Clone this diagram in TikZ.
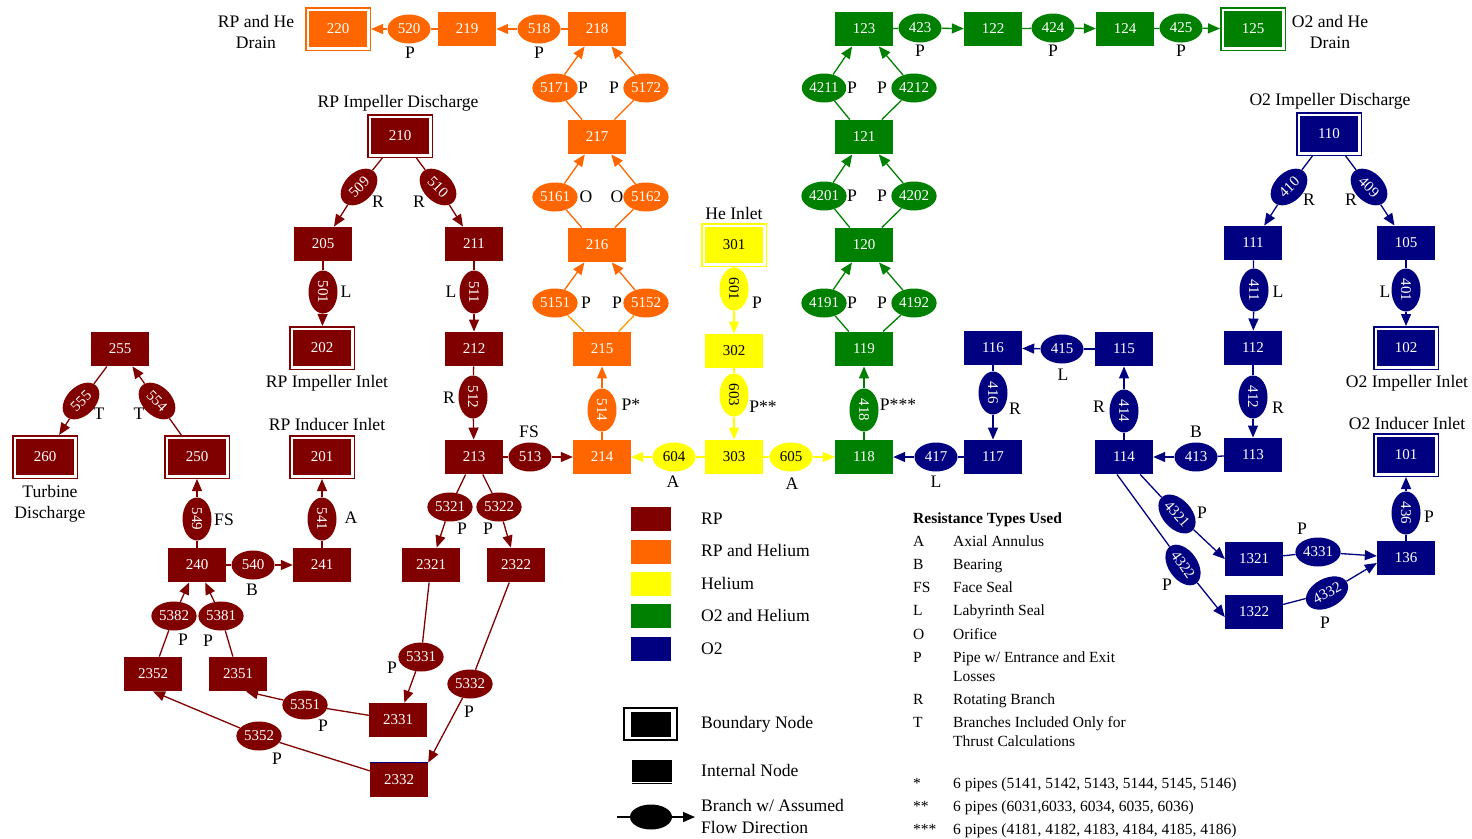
\documentclass[tikz,border=0pt]{standalone}
\usepackage{fontspec}
\setmainfont{Liberation Serif}
\usetikzlibrary{arrows.meta,shapes.geometric}
\definecolor{rp}{HTML}{800000}
\definecolor{orn}{HTML}{FF6600}
\definecolor{orl}{HTML}{FF9900}
\definecolor{yel}{HTML}{FFFF00}
\definecolor{grn}{HTML}{008000}
\definecolor{nvy}{HTML}{000080}
\newcommand\nfont{\fontsize{15}{17}\selectfont}
\newcommand\lfont{\fontsize{17.6}{21}\selectfont}
\newcommand\sfont{\fontsize{15.5}{18.5}\selectfont}
\tikzset{
 nd/.style={rectangle, fill=#1, minimum width=58pt, minimum height=34.5pt, inner sep=0pt, font=\nfont, text=white},
 bd/.style={rectangle, fill=#1, draw=#1, double=white, double distance=2.5pt, line width=1.5pt, minimum width=60.5pt, minimum height=38.5pt, inner sep=0pt, outer sep=2.75pt, font=\nfont, text=white},
 el/.style={ellipse, fill=#1, minimum width=43pt, minimum height=29pt, inner sep=1pt, font=\nfont, text=white},
 lb/.style={font=\lfont, inner sep=0pt, align=center},
 lt/.style={font=\lfont, inner sep=0pt, anchor=west, text height=11.6pt, text depth=0pt},
 rt/.style={font=\sfont, inner sep=0pt, anchor=west, text height=10.2pt, text depth=0pt},
 ln/.style={draw=#1, line width=1.3pt},
 ar/.style={draw=#1, line width=1.3pt, -{Triangle[length=12pt,width=10pt]}},
}
\newcommand\mybr[4]{\draw[ln=#1] (#2) -- (#3); \draw[ar=#1] (#3) -- (#4);}
\newcommand\lab[3]{\node[lb] (#1) at (#2) {#3};}
\begin{document}
\begin{tikzpicture}[x=1pt,y=-1pt]
\useasboundingbox (0,0) rectangle (1472,838);
% ---------------- RP (dark red)
\node[bd=rp] (210) at (400,136) {210};
\node[el=rp, rotate=45] (509) at (359,187) {509};
\node[el=rp, rotate=-45] (510) at (438,187) {510};
\node[nd=rp] (205) at (323,244) {205};
\node[nd=rp] (211) at (474,244) {211};
\node[el=rp, rotate=-90] (501) at (323,292) {501};
\node[el=rp, rotate=-90] (511) at (474,292) {511};
\node[bd=rp] (202) at (322,348) {202};
\node[nd=rp] (212) at (474,349) {212};
\node[el=rp, rotate=-90] (512) at (473,397) {512};
\node[nd=rp] (213) at (474,457) {213};
\node[el=rp] (513) at (530,457) {513};
\node[el=rp] (5321) at (450,507) {5321};
\node[el=rp] (5322) at (499,507) {5322};
\node[nd=rp] (2321) at (431,565) {2321};
\node[nd=rp] (2322) at (516,565) {2322};
\node[el=rp] (5331) at (421,657) {5331};
\node[el=rp] (5332) at (470,684) {5332};
\node[nd=rp] (2331) at (398,720) {2331};
\node[nd=rp] (2332) at (399,780) {2332};
\draw[nvy, line width=1pt] (2332.north west) -- (2332.north east);
\node[el=rp] (5351) at (305,705) {5351};
\node[el=rp] (5352) at (259,736) {5352};
\node[nd=rp] (2351) at (238,674) {2351};
\node[nd=rp] (2352) at (153,674) {2352};
\node[el=rp] (5381) at (221,616) {5381};
\node[el=rp] (5382) at (174,616) {5382};
\node[nd=rp] (240) at (197,565) {240};
\node[el=rp] (540) at (253,565) {540};
\node[nd=rp] (241) at (322,565) {241};
\node[el=rp, rotate=-90] (541) at (322,519) {541};
\node[bd=rp] (201) at (322,457) {201};
\node[el=rp, rotate=-90] (549) at (197,519) {549};
\node[bd=rp] (250) at (197,457) {250};
\node[el=rp, rotate=-45] (554) at (157,401) {554};
\node[nd=rp] (255) at (120,349) {255};
\node[el=rp, rotate=45] (555) at (81,401) {555};
\node[bd=rp] (260) at (45,457) {260};
% ---------------- RP and Helium (orange)
\node[bd=orn] (220) at (338,29) {220};
\node[el=orn] (520) at (409,29) {520};
\node[nd=orn] (219) at (467,29) {219};
\node[el=orn] (518) at (539,29) {518};
\node[nd=orn] (218) at (597,29) {218};
\node[el=orn] (5171) at (555,88) {5171};
\node[el=orn] (5172) at (646,88) {5172};
\node[nd=orn] (217) at (597,137) {217};
\node[el=orn] (5161) at (555,197) {5161};
\node[el=orn] (5162) at (646,197) {5162};
\node[nd=orn] (216) at (597,245) {216};
\node[el=orn] (5151) at (555,303) {5151};
\node[el=orn] (5152) at (646,303) {5152};
\node[nd=orn] (215) at (602,349) {215};
\node[el=orn, rotate=-90] (514) at (602,410) {514};
\node[nd=orn] (214) at (602,457) {214};
% ---------------- Helium (yellow)
\node[bd=yel, text=black] (301) at (734,245) {301};
\node[el=yel, text=black, rotate=-90] (601) at (734,289) {601};
\node[nd=yel, text=black] (302) at (734,351) {302};
\node[el=yel, text=black, rotate=-90] (603) at (734,395) {603};
\node[nd=yel, text=black] (303) at (734,457) {303};
\node[el=yel, text=black] (604) at (674,457) {604};
\node[el=yel, text=black] (605) at (791,457) {605};
% ---------------- O2 and Helium (green)
\node[nd=grn] (123) at (864,29) {123};
\node[el=grn] (423) at (920,28) {423};
\node[nd=grn] (122) at (993,29) {122};
\node[el=grn] (424) at (1053,28) {424};
\node[nd=grn] (124) at (1125,29) {124};
\node[el=grn] (425) at (1181,28) {425};
\node[bd=grn] (125) at (1253,29) {125};
\node[el=grn] (4211) at (824,88) {4211};
\node[el=grn] (4212) at (914,88) {4212};
\node[nd=grn] (121) at (864,137) {121};
\node[el=grn] (4201) at (824,196) {4201};
\node[el=grn] (4202) at (914,196) {4202};
\node[nd=grn] (120) at (864,245) {120};
\node[el=grn] (4191) at (824,303) {4191};
\node[el=grn] (4192) at (914,303) {4192};
\node[nd=grn] (119) at (864,349) {119};
\node[el=grn, rotate=-90] (418) at (864,410) {418};
\node[nd=grn] (118) at (864,457) {118};
% ---------------- O2 (navy)
\node[nd=nvy] (117) at (993,457) {117};
\node[el=nvy] (417) at (936,457) {417};
\node[nd=nvy] (116) at (993,348) {116};
\node[el=nvy, rotate=-90] (416) at (993,393) {416};
\node[el=nvy] (415) at (1062,349) {415};
\node[nd=nvy] (115) at (1124,349) {115};
\node[el=nvy, rotate=-90] (414) at (1124,411) {414};
\node[nd=nvy] (114) at (1124,457) {114};
\node[el=nvy] (413) at (1196,457) {413};
\node[nd=nvy] (113) at (1253,455) {113};
\node[el=nvy, rotate=-90] (412) at (1253,397) {412};
\node[nd=nvy] (112) at (1253,348) {112};
\node[el=nvy, rotate=-90] (411) at (1254,290) {411};
\node[nd=nvy] (111) at (1253,243) {111};
\node[el=nvy, rotate=45] (410) at (1289,187) {410};
\node[bd=nvy] (110) at (1329,134) {110};
\node[el=nvy, rotate=-45] (409) at (1369,187) {409};
\node[nd=nvy] (105) at (1406,243) {105};
\node[el=nvy, rotate=-90] (401) at (1406,290) {401};
\node[bd=nvy] (102) at (1406,348) {102};
\node[bd=nvy] (101) at (1406,455) {101};
\node[el=nvy, rotate=-90] (436) at (1406,513) {436};
\node[nd=nvy] (136) at (1406,558) {136};
\node[el=nvy, rotate=-48] (4321) at (1177,514) {4321};
\node[el=nvy, rotate=-55] (4322) at (1183,565) {4322};
\node[nd=nvy] (1321) at (1254,559) {1321};
\node[nd=nvy] (1322) at (1254,612) {1322};
\node[el=nvy] (4331) at (1318,552) {4331};
\node[el=nvy, rotate=28] (4332) at (1327,593) {4332};
% ---------------- connectors
\mybr{rp}{210}{509}{205}
\mybr{rp}{210}{510}{211}
\mybr{rp}{205}{501}{202}
\mybr{rp}{211}{511}{212}
\mybr{rp}{212}{512}{213}
\mybr{rp}{213}{513}{214}
\mybr{rp}{213}{5321}{2321}
\mybr{rp}{213}{5322}{2322}
\mybr{rp}{2321}{5331}{2331}
\mybr{rp}{2322}{5332}{2332.north east}
\mybr{rp}{2331}{5351}{[xshift=8pt]2351.south}
\mybr{rp}{2332}{5352}{2352.south}
\mybr{rp}{2351}{5381}{240}
\mybr{rp}{2352}{5382}{240}
\mybr{rp}{240}{540}{241}
\mybr{rp}{241}{541}{201}
\mybr{rp}{240}{549}{250}
\mybr{rp}{250}{554}{255}
\mybr{rp}{255}{555}{260}
\mybr{orn}{219}{520}{220}
\mybr{orn}{218}{518}{219}
\mybr{orn}{217}{5171}{218}
\mybr{orn}{217}{5172}{218}
\mybr{orn}{216}{5161}{217}
\mybr{orn}{216}{5162}{217}
\draw[ln=orl] (215) -- (5151); \draw[ar=orn] (5151) -- (216);
\draw[ln=orl] (215) -- (5152); \draw[ar=orn] (5152) -- (216);
\mybr{orn}{214}{514}{215}
\mybr{yel}{301}{601}{302}
\mybr{yel}{302}{603}{303}
\mybr{yel}{303}{604}{214}
\mybr{yel}{303}{605}{118}
\mybr{grn}{118}{418}{119}
\mybr{grn}{119}{4191}{120}
\mybr{grn}{119}{4192}{120}
\mybr{grn}{120}{4201}{121}
\mybr{grn}{120}{4202}{121}
\mybr{grn}{121}{4211}{123}
\mybr{grn}{121}{4212}{123}
\mybr{grn}{123}{423}{122}
\mybr{grn}{122}{424}{124}
\mybr{grn}{124}{425}{125}
\mybr{nvy}{110}{410}{111}
\mybr{nvy}{110}{409}{105}
\mybr{nvy}{111}{411}{112}
\mybr{nvy}{112}{412}{113}
\mybr{nvy}{113}{413}{114}
\mybr{nvy}{114}{414}{115}
\mybr{nvy}{115}{415}{116}
\mybr{nvy}{116}{416}{117}
\mybr{nvy}{117}{417}{118}
\mybr{nvy}{105}{401}{102}
\mybr{nvy}{114}{4321}{1321.west}
\mybr{nvy}{[xshift=-7pt]114.south}{4322}{[yshift=-5pt]1322.west}
\mybr{nvy}{1321}{4331}{136}
\mybr{nvy}{1322}{4332}{[yshift=-5pt]136.west}
\mybr{nvy}{136}{436}{101}
% ---------------- labels
\lab{tRPID}{398,103}{RP Impeller Discharge}
\lab{t509}{378,202}{R}
\lab{t510}{419,202}{R}
\lab{t501}{346,292}{L}
\lab{t511}{451,292}{L}
\lab{tRPII}{327,383}{RP Impeller Inlet}
\lab{t512}{449,398}{R}
\lab{t513}{529,432}{FS}
\lab{tRPIn}{327,424}{RP Inducer Inlet}
\lab{t541}{351,518}{A}
\lab{t549}{224,520}{FS}
\lab{t540}{252,590}{B}
\lab{t555}{99,414}{T}
\lab{t554}{139,414}{T}
\lab{tTD}{50,504}{Turbine\\Discharge}
\lab{t5321}{462,529}{P}
\lab{t5322}{488,529}{P}
\lab{t5331}{392,668}{P}
\lab{t5332}{469,712}{P}
\lab{t5351}{323,726}{P}
\lab{t5352}{277,759}{P}
\lab{t5381}{208,641}{P}
\lab{t5382}{183,640}{P}
\lab{tRPHe}{256,31.5}{RP and He\\Drain}
\lab{t520}{410,53}{P}
\lab{t518}{539,53}{P}
\lab{t5171}{583,88}{P}
\lab{t5172}{614,88}{P}
\lab{t5161}{586,197}{O}
\lab{t5162}{617,197}{O}
\lab{t5151}{586,303}{P}
\lab{t5152}{617,303}{P}
\lab{t514}{631,405}{P*}
\lab{tHe}{734,213}{He Inlet}
\lab{t601}{757,303}{P}
\lab{t603}{763,407}{P**}
\lab{t604}{673,482}{A}
\lab{t605}{792,484}{A}
\lab{t423}{920,51}{P}
\lab{t424}{1053,51}{P}
\lab{t425}{1181,51}{P}
\lab{tO2He}{1330,31.5}{O2 and He\\Drain}
\lab{t4211}{852,88}{P}
\lab{t4212}{882,88}{P}
\lab{t4201}{852,196}{P}
\lab{t4202}{882,196}{P}
\lab{t4191}{852,303}{P}
\lab{t4192}{882,303}{P}
\lab{t418}{898,405}{P***}
\lab{t417}{936,482}{L}
\lab{t416}{1015,409}{R}
\lab{t415}{1063,375}{L}
\lab{t414}{1099,407}{R}
\lab{t413}{1196,432}{B}
\lab{t412}{1278,408}{R}
\lab{t411}{1278,292}{L}
\lab{t410}{1309,200}{R}
\lab{t409}{1351,200}{R}
\lab{tO2ID}{1330,101}{O2 Impeller Discharge}
\lab{t401}{1385,292}{L}
\lab{tO2II}{1407,383}{O2 Impeller Inlet}
\lab{tO2In}{1407,423}{O2 Inducer Inlet}
\lab{t436}{1429,517}{P}
\lab{t4321}{1202,513}{P}
\lab{t4322}{1167,585}{P}
\lab{t4331}{1302,529}{P}
\lab{t4332}{1325,623}{P}
% ---------------- colour legend
\node[fill=rp, minimum width=40pt, minimum height=24pt] (sw1) at (651,519) {};
\node[fill=orn, minimum width=40pt, minimum height=24pt] (sw2) at (651,551.5) {};
\node[fill=yel, minimum width=40pt, minimum height=24pt] (sw3) at (651,584) {};
\node[fill=grn, minimum width=40pt, minimum height=24pt] (sw4) at (651,616) {};
\node[fill=nvy, minimum width=40pt, minimum height=24pt] (sw5) at (651,649) {};
\node[lt] (lt1) at (701,519) {RP};
\node[lt] (lt2) at (701,551) {RP and Helium};
\node[lt] (lt3) at (701,584) {Helium};
\node[lt] (lt4) at (701,616) {O2 and Helium};
\node[lt] (lt5) at (701,649) {O2};
\node[draw=black, line width=1.5pt, minimum width=53pt, minimum height=32pt, inner sep=0pt] (lgbo) at (650.5,724) {};
\node[fill=black, minimum width=40pt, minimum height=25pt, inner sep=0pt] (lgbi) at (651,724.5) {};
\node[lt] (lt6) at (701,723) {Boundary Node};
\node[fill=black, minimum width=40pt, minimum height=22pt, inner sep=0pt] (lgi) at (652,771) {};
\draw[line width=0.8pt] ([yshift=-1.6pt]lgi.south west) -- ([yshift=-1.6pt]lgi.south east);
\node[lt] (lt7) at (701,771) {Internal Node};
\coordinate (lbs) at (617,817);
\node[ellipse, fill=black, minimum width=42pt, minimum height=25pt, inner sep=0pt] (lbe) at (651,817) {};
\coordinate (lbt) at (695,817);
\draw[ln=black] (lbs) -- (lbe);
\draw[ar=black] (lbe) -- (lbt);
\node[lt] (lt8) at (701,806) {Branch w/ Assumed};
\node[lt] (lt9) at (701,828) {Flow Direction};
% ---------------- resistance legend
\node[rt, font=\sfont\bfseries] (rh) at (913,518) {Resistance Types Used};
\node[rt] (ra1) at (913,541) {A};   \node[rt] (rb1) at (953,541) {Axial Annulus};
\node[rt] (ra2) at (913,564) {B};   \node[rt] (rb2) at (953,564) {Bearing};
\node[rt] (ra3) at (913,587) {FS};  \node[rt] (rb3) at (953,587) {Face Seal};
\node[rt] (ra4) at (913,610) {L};   \node[rt] (rb4) at (953,610) {Labyrinth Seal};
\node[rt] (ra5) at (913,634) {O};   \node[rt] (rb5) at (953,634) {Orifice};
\node[rt] (ra6) at (913,657) {P};   \node[rt] (rb6) at (953,657) {Pipe w/ Entrance and Exit};
\node[rt] (rb6b) at (953,676) {Losses};
\node[rt] (ra7) at (913,699) {R};   \node[rt] (rb7) at (953,699) {Rotating Branch};
\node[rt] (ra8) at (913,722) {T};   \node[rt] (rb8) at (953,722) {Branches Included Only for};
\node[rt] (rb8b) at (953,741) {Thrust Calculations};
\node[rt] (ra9) at (913,783) {*};   \node[rt] (rb9) at (953,783) {6 pipes (5141, 5142, 5143, 5144, 5145, 5146)};
\node[rt] (ra10) at (913,806) {**}; \node[rt] (rb10) at (953,806) {6 pipes (6031,6033, 6034, 6035, 6036)};
\node[rt] (ra11) at (913,829) {***};\node[rt] (rb11) at (953,829) {6 pipes (4181, 4182, 4183, 4184, 4185, 4186)};
\end{tikzpicture}
\end{document}
